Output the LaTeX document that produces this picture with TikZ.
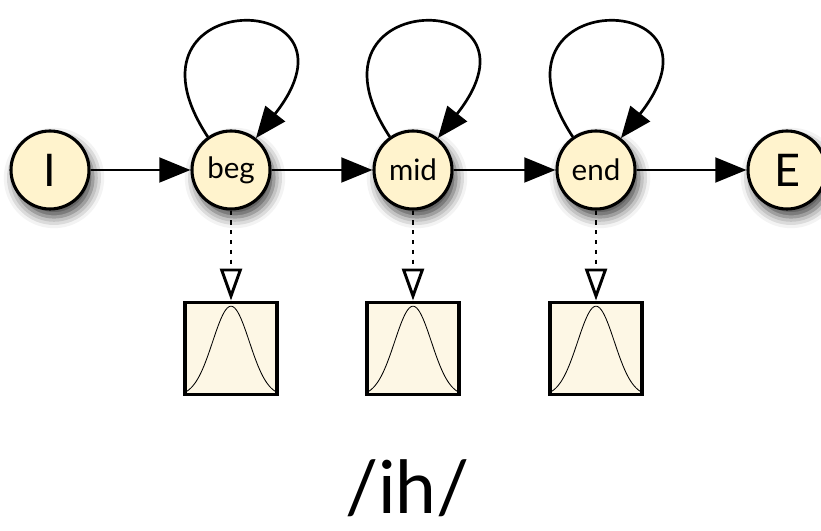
\documentclass[tikz,border=0pt]{standalone}
\usepackage{fontspec}
\setmainfont{Lato}
\usetikzlibrary{arrows.meta}
\usetikzlibrary{positioning}
\usetikzlibrary{shadows.blur}

\definecolor{statefill}{RGB}{255,243,205}
\definecolor{pdffill}{RGB}{253,247,229}

\begin{document}
\begin{tikzpicture}[
    state/.style={circle, draw, line width=2.2pt, fill=statefill, minimum size=1.95cm, inner sep=0pt,
        font=\fontsize{21}{21}\selectfont,
        blur shadow={shadow xshift=0.1cm, shadow yshift=-0.2cm, shadow blur radius=0.28cm, shadow opacity=75}},
    bigstate/.style={state, font=\fontsize{32}{32}\selectfont},
    trans/.style={-{Triangle[length=0.78cm,width=0.62cm]}, line width=1.9pt},
    emit/.style={-{Triangle[open,length=0.8cm,width=0.55cm]}, line width=2.1pt, dash pattern=on 3pt off 4pt},
    pdfbox/.style={draw, line width=2.6pt, fill=pdffill, minimum size=2.3cm, inner sep=0pt}
]
    \useasboundingbox (0,0) rectangle (20.525,13.25);

    % States
    \node[bigstate] (start) at (1.25,9.0) {I};
    \node[state] (beg) at (5.775,9.0) {beg};
    \node[state] (mid) at (10.325,9.0) {mid};
    \node[state] (fin) at (14.9,9.0) {end};
    \node[bigstate] (stop) at (19.675,9.0) {E};

    % Transitions
    \draw[trans] (start) -- (beg);
    \draw[trans] (beg) -- (mid);
    \draw[trans] (mid) -- (fin);
    \draw[trans] (fin) -- (stop);

    % Self loops
    \foreach \s in {beg,mid,fin}
        \draw[trans] (\s.125) .. controls +(-2.5,3.8) and +(3.0,3.8) .. (\s.52);

    % Output densities
    \foreach \s in {beg,mid,fin} {
        \node[pdfbox, below=2.25cm of \s] (p\s) {};
        \draw[emit] (\s) -- (p\s);
        \draw[line width=0.6pt, shift={(p\s.south)}]
            plot[domain=-1.13:1.13, samples=60, smooth] (\x, {2.25*exp(-((\x)^2)/0.42)});
    }

    % Phone label
    \node[font=\fontsize{52}{52}\selectfont] (phone) at (10.19,1.05) {/ih/};

\end{tikzpicture}
\end{document}
